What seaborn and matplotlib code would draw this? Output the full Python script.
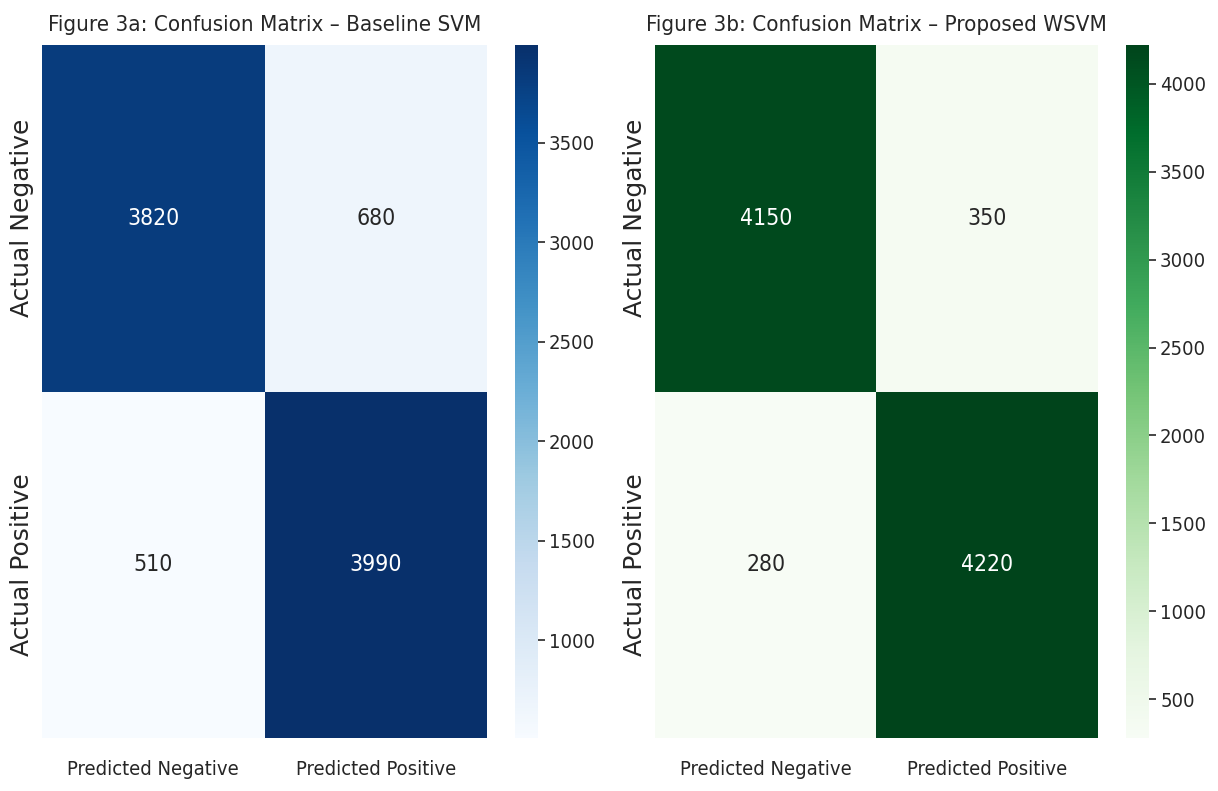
import numpy as np
import matplotlib
matplotlib.use("Agg")
import matplotlib.pyplot as plt
import seaborn as sns

# Confusion-matrix counts
row_labels = ["Actual Negative", "Actual Positive"]
col_labels = ["Predicted Negative", "Predicted Positive"]
svm_counts = [[3820, 680], [510, 3990]]
wsvm_counts = [[4150, 350], [280, 4220]]
titles = ["Figure 3a: Confusion Matrix \u2013 Baseline SVM",
          "Figure 3b: Confusion Matrix \u2013 Proposed WSVM"]

sns.set_theme(style="white")
plt.rcParams["font.family"] = ["DejaVu Sans"]
plt.rcParams["font.stretch"] = "condensed"

fig = plt.figure(figsize=(12.18, 7.91), dpi=100)
W, H = 1218, 791

def box(x0, y0, x1, y1):
    return [x0 / W, 1 - y1 / H, (x1 - x0) / W, (y1 - y0) / H]

panels = [
    (svm_counts, "Blues", box(42, 45, 487, 738), box(515, 45, 538, 738), titles[0]),
    (wsvm_counts, "Greens", box(655, 45, 1098, 738), box(1126, 45, 1149, 738), titles[1]),
]

for counts, cmap, ax_rect, cb_rect, title in panels:
    ax = fig.add_axes(ax_rect)
    cax = fig.add_axes(cb_rect)
    sns.heatmap(np.array(counts), annot=True, fmt="d", cmap=cmap, ax=ax, cbar_ax=cax,
                xticklabels=col_labels, yticklabels=row_labels,
                annot_kws={"fontsize": 16.5})
    ax.set_title(title, fontsize=16, pad=10)
    ax.tick_params(axis="x", labelsize=14.5, length=0, pad=16)
    ax.tick_params(axis="y", labelsize=18, length=0, pad=6)
    for lbl in ax.get_yticklabels():
        lbl.set_rotation(90)
        lbl.set_va("center")
        lbl.set_fontstretch("normal")
    cax.tick_params(labelsize=14.5, length=5, width=1.2, color="#262626", pad=3)

fig.savefig("out.png", dpi=100)
